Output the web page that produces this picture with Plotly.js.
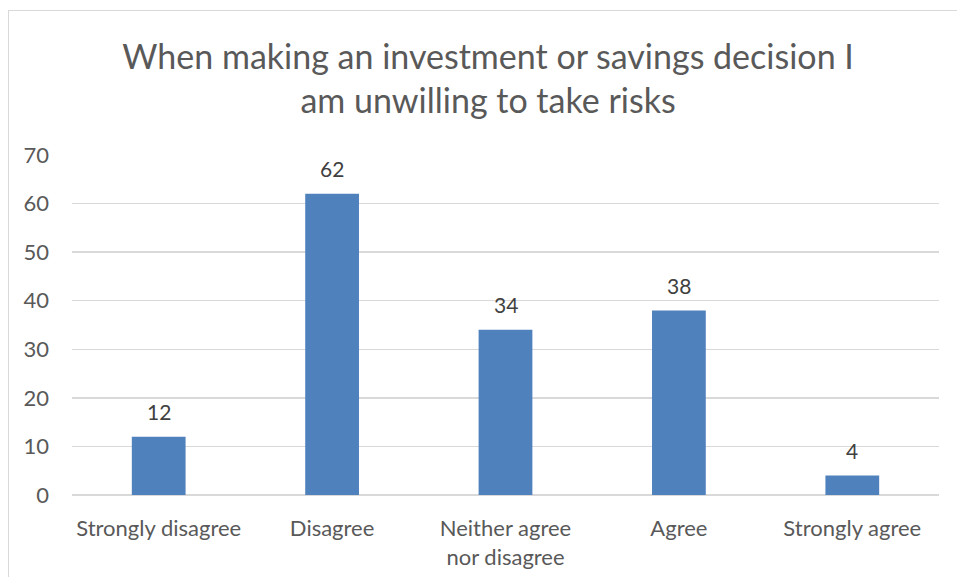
<!DOCTYPE html>
<html>
<head>
<meta charset="utf-8">
<script src="https://cdn.plot.ly/plotly-3.0.1.min.js"></script>
<style>
html,body{margin:0;padding:0;background:#fff;}
#frame{position:absolute;left:8px;top:10px;width:1000px;height:600px;border-left:1px solid #d9d9d9;border-top:1px solid #d9d9d9;pointer-events:none;z-index:5;}
#chart{position:absolute;left:0;top:0;width:957px;height:577px;}
</style>
</head>
<body>
<div id="chart"></div>
<div id="frame"></div>
<script>
const categories = ["Strongly disagree", "Disagree", "Neither agree nor disagree", "Agree", "Strongly agree"];
const tickLabels = ["Strongly disagree", "Disagree", "Neither agree<br>nor disagree", "Agree", "Strongly agree"];
const values = [12, 62, 34, 38, 4];
const yTicks = [0, 10, 20, 30, 40, 50, 60, 70];
const titleText = "When making an investment or savings decision I<br>am unwilling to take risks";

const FONT = "Lato, 'Open Sans', sans-serif";

const trace = {
  type: "bar",
  x: categories,
  y: values,
  marker: {color: "#4f81bd"},
  hoverinfo: "x+y"
};

const annotations = categories.map((c, i) => ({
  x: c, y: values[i], xref: "x", yref: "y",
  text: String(values[i]), showarrow: false,
  yanchor: "middle", yshift: 25,
  font: {family: FONT, size: 21, color: "#404040"}
}));

const layout = {
  width: 957, height: 577,
  margin: {l: 72, r: 18, t: 155, b: 82},
  paper_bgcolor: "#ffffff", plot_bgcolor: "#ffffff",
  showlegend: false,
  bargap: 0.69,
  title: {
    text: titleText,
    font: {family: FONT, size: 34, color: "#595959"},
    x: 0.51, xref: "container", xanchor: "center",
    y: 0.88, yref: "container", yanchor: "middle"
  },
  xaxis: {
    type: "category",
    tickvals: categories, ticktext: tickLabels,
    showgrid: false, showline: false, zeroline: false,
    ticks: "", ticklen: 0,
    ticklabelstandoff: 18,
    tickfont: {family: FONT, size: 22, color: "#595959"},
    automargin: false
  },
  yaxis: {
    range: [0, 70],
    tickvals: yTicks,
    showgrid: true, gridcolor: "#d9d9d9", gridwidth: 1.5,
    zeroline: true, zerolinecolor: "#d9d9d9", zerolinewidth: 1.5,
    showline: false, ticks: "",
    ticklabelstandoff: 22,
    tickfont: {family: FONT, size: 22, color: "#595959"},
    automargin: false
  },
  annotations: annotations
};

Plotly.newPlot("chart", [trace], layout, {displayModeBar: false, staticPlot: true});
</script>
</body>
</html>
